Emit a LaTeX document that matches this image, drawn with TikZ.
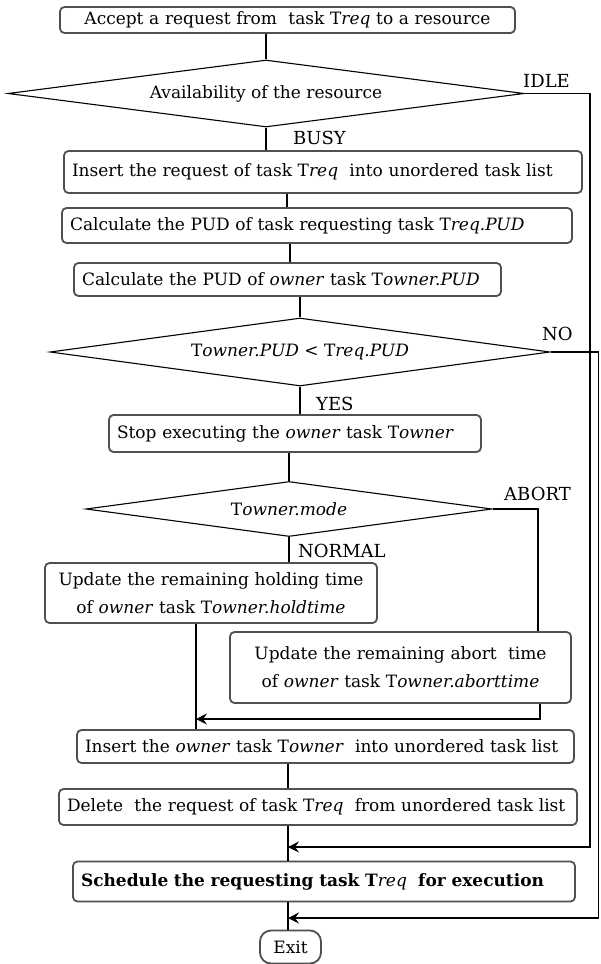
\documentclass[tikz,border=0pt]{standalone}
\usepackage{fontspec}
\setmainfont{DejaVu Serif}
\usetikzlibrary{shapes.geometric,arrows.meta}
\newcommand\Tv[1]{T\textit{#1}}
\tikzset{
  box/.style={draw={rgb,255:red,80;green,80;blue,80}, line width=1.8pt, rounded corners=4.5pt,
    inner xsep=8pt, inner ysep=0pt, font=\fontsize{17}{28}\selectfont},
  dia/.style={draw=black, line width=1.1pt, diamond, aspect=6, inner sep=0pt,
    font=\fontsize{17}{20}\selectfont},
  lbl/.style={inner sep=0pt, font=\fontsize{18}{20}\selectfont},
  conn/.style={draw=black, line width=1.1pt},
  arr/.style={conn, -{Stealth[length=11pt,width=11pt,inset=4pt]}}
}
\begin{document}
\begin{tikzpicture}[x=1pt,y=-1pt]
\useasboundingbox (0,0) rectangle (600,964);
% boxes
\node[box, minimum width=455pt, text width=439pt, align=center, minimum height=26pt] (b1) at (287.5,20) {Accept a request from\ \ task \Tv{req} to a resource};
\node[dia, minimum width=516pt, minimum height=67pt] (d1) at (266,93.5) {Availability of the resource};
\node[box, minimum width=518pt, text width=502pt, align=left, minimum height=42pt] (b2) at (323,172) {Insert the request of task \Tv{req}\ \ into unordered task list};
\node[box, minimum width=510pt, text width=494pt, align=left, minimum height=35pt] (b3) at (317,225.5) {Calculate the PUD of task requesting task \Tv{req.PUD}};
\node[box, minimum width=427pt, text width=411pt, align=left, minimum height=33pt] (b4) at (287.5,279.5) {Calculate the PUD of \textit{owner} task \Tv{owner.PUD}};
\node[dia, minimum width=500pt, minimum height=68pt] (d2) at (300,352) {\Tv{owner.PUD} < \Tv{req.PUD}};
\node[box, minimum width=372pt, text width=356pt, align=left, minimum height=37pt] (b5) at (295,433.5) {Stop executing the \textit{owner} task \Tv{owner}};
\node[dia, minimum width=406pt, minimum height=55pt] (d3) at (289,509) {\Tv{owner.mode}};
\node[box, minimum width=332pt, text width=316pt, align=center, minimum height=60pt] (b6) at (211,593) {Update the remaining holding time\\ of \textit{owner} task \Tv{owner.holdtime}};
\node[box, minimum width=341pt, text width=325pt, align=center, minimum height=71pt] (b7) at (400.5,667.5) {Update the remaining abort\ \ time\\ of \textit{owner} task \Tv{owner.aborttime}};
\node[box, minimum width=497pt, text width=481pt, align=left, minimum height=33pt] (b8) at (325.5,746.5) {Insert the \textit{owner} task \Tv{owner}\ \ into unordered task list};
\node[box, minimum width=518pt, text width=502pt, align=left, minimum height=36pt] (b9) at (318,807) {Delete\ \ the request of task \Tv{req}\ \ from unordered task list};
\node[box, minimum width=502pt, text width=486pt, align=left, minimum height=40pt] (b10) at (324,881.5) {\textbf{Schedule the requesting task T}\textit{req}\ \ \textbf{for execution}};
\node[box, rounded corners=11pt, minimum width=61pt, inner xsep=4pt, minimum height=33pt] (ex) at (290.5,947) {Exit};
% labels
\node[lbl, anchor=base west] (lidle) at (523,87) {IDLE};
\node[lbl, anchor=base west] (lbusy) at (293,144) {BUSY};
\node[lbl, anchor=base west] (lno) at (542,340) {NO};
\node[lbl, anchor=base west] (lyes) at (316,410) {YES};
\node[lbl, anchor=base west] (labort) at (504,500) {ABORT};
\node[lbl, anchor=base west] (lnormal) at (298,557) {NORMAL};
% helper coordinates
\coordinate (x23) at (287,0);
\coordinate (x34) at (290,0);
\coordinate (tr) at (288,0);
\coordinate (cI) at (590,847);
\coordinate (cN) at (598.5,918);
\coordinate (xA) at (538,0);
\coordinate (m) at (540,719);
\coordinate (xL) at (196,0);
% trunk
\draw[conn] (d1.north |- b1.south) -- (d1.north);
\draw[conn] (d1.south) -- (d1.south |- b2.north);
\draw[conn] (b2.south -| x23) -- (b3.north -| x23);
\draw[conn] (b3.south -| x34) -- (b4.north -| x34);
\draw[conn] (d2.north |- b4.south) -- (d2.north);
\draw[conn] (d2.south) -- (d2.south |- b5.north);
\draw[conn] (d3.north |- b5.south) -- (d3.north);
\draw[conn] (d3.south) -- (d3.south |- b6.north);
\draw[conn] (d3.east) -| (b7.north -| xA);
\draw[arr] (b7.south -| m) -- (m) -- (m -| xL);
\draw[conn] (b6.south -| xL) -- (b8.north -| xL);
\draw[conn] (b8.south -| tr) -- (b9.north -| tr);
\draw[conn] (b9.south -| tr) -- (b10.north -| tr);
\draw[conn] (b10.south -| tr) -- (ex.north -| tr);
\draw[arr] (d1.east) -| (cI) -- (cI -| tr);
\draw[arr] (d2.east) -| (cN) -- (cN -| tr);
\end{tikzpicture}
\end{document}
